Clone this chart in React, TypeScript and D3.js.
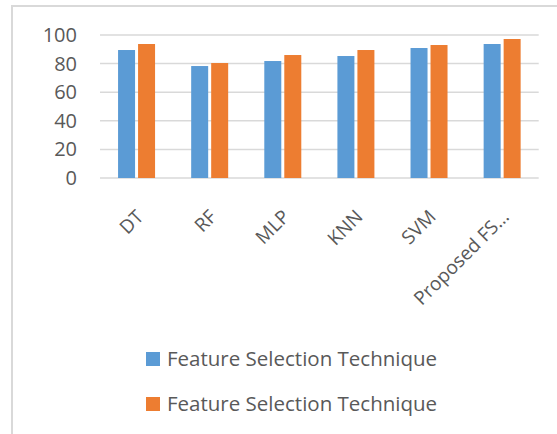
import React, { useEffect, useRef } from "react";
import * as d3 from "d3";

const categories = ["DT", "RF", "MLP", "KNN", "SVM", "Proposed FS…"];
const seriesNames = ["Feature Selection Technique", "Feature Selection Technique"];
const seriesA = [89.5, 78.3, 81.8, 85.3, 90.9, 93.7];
const seriesB = [93.7, 80.4, 86.0, 89.5, 93.0, 97.2];
const yTicks = [0, 20, 40, 60, 80, 100];
const colors = ["#5B9BD5", "#ED7D31"];

export default function App() {
  const ref = useRef<SVGSVGElement>(null);

  useEffect(() => {
    const svg = d3.select(ref.current);
    svg.selectAll("*").remove();

    const width = 557;
    const height = 434;
    const font = "'Open Sans', sans-serif";
    const textColor = "#595959";

    // chart frame
    svg.append("path")
      .attr("d", `M12,${height} L12,6 L${width},6`)
      .attr("fill", "none")
      .attr("stroke", "#d9d9d9")
      .attr("stroke-width", 2);

    const x = d3.scaleBand().domain(categories).range([100, 538.7]);
    const y = d3.scaleLinear().domain([0, 100]).range([178, 35]);

    // gridlines
    svg.append("g")
      .selectAll("line")
      .data(yTicks)
      .join("line")
      .attr("x1", 100)
      .attr("x2", 538.7)
      .attr("y1", d => y(d))
      .attr("y2", d => y(d))
      .attr("stroke", "#d9d9d9")
      .attr("stroke-width", 1.5);

    svg.append("g")
      .selectAll("text")
      .data(yTicks)
      .join("text")
      .attr("x", 77)
      .attr("y", d => y(d))
      .attr("dy", "0.35em")
      .attr("text-anchor", "end")
      .attr("font-family", font)
      .attr("font-size", 20)
      .attr("fill", textColor)
      .text(d => d);

    const barW = 17;
    const gap = 3;
    const series = [seriesA, seriesB];
    series.forEach((vals, si) => {
      svg.append("g")
        .selectAll("rect")
        .data(vals)
        .join("rect")
        .attr("x", (d, i) => x(categories[i])! + x.bandwidth() / 2 - barW - gap / 2 + si * (barW + gap))
        .attr("y", d => y(d))
        .attr("width", barW)
        .attr("height", d => y(0) - y(d))
        .attr("fill", colors[si]);
    });

    // x labels, rotated -45
    svg.append("g")
      .selectAll("text")
      .data(categories)
      .join("text")
      .attr("transform", d => `translate(${x(d)! + x.bandwidth() / 2 + 8},${218}) rotate(-45)`)
      .attr("text-anchor", "end")
      .attr("font-family", font)
      .attr("font-size", 19)
      .attr("fill", textColor)
      .text(d => d);

    // legend
    const legend = svg.append("g")
      .selectAll("g")
      .data(seriesNames)
      .join("g")
      .attr("transform", (d, i) => `translate(146,${352 + i * 45})`);
    legend.append("rect")
      .attr("width", 14)
      .attr("height", 14)
      .attr("fill", (d, i) => colors[i]);
    legend.append("text")
      .attr("x", 21)
      .attr("y", 14)
      .attr("font-family", font)
      .attr("font-size", 20.5)
      .attr("fill", textColor)
      .text(d => d);
  }, []);

  return (
    <svg
      ref={ref}
      width={557}
      height={434}
      style={{ position: "absolute", left: 0, top: 0, background: "#fff" }}
    />
  );
}
